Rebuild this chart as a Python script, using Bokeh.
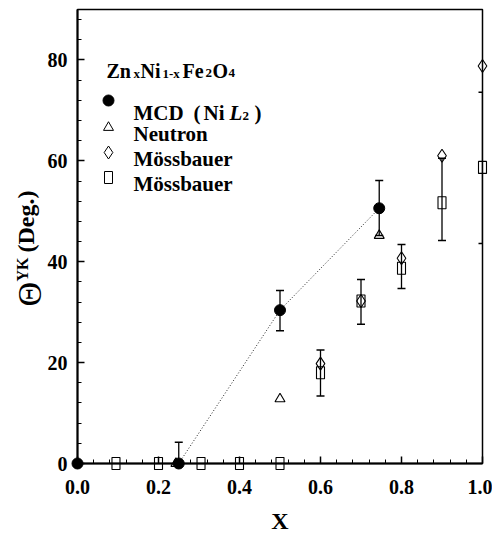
import numpy as np
from bokeh.plotting import figure
from bokeh.models import (Range1d, Whisker, ColumnDataSource, TeeHead,
                          SingleIntervalTicker, PrintfTickFormatter)
from bokeh.core.properties import value
from bokeh.embed import file_html
from bokeh.resources import INLINE

# ---------------- data ----------------
mcd_x = [0.0, 0.25, 0.5, 0.745]
mcd_y = [0.0, 0.0, 30.4, 50.6]
mcd_lo = [0.0, 0.0, 26.3, 45.2]
mcd_hi = [0.0, 4.2, 34.3, 56.1]

neu_x = [0.243, 0.5, 0.745]
neu_y = [0.0, 12.8, 45.2]

dia_x = [0.6, 0.7, 0.8, 0.9, 1.0]
dia_y = [19.8, 32.2, 40.7, 61.0, 78.8]

sq_x = [0.095, 0.2, 0.305, 0.4, 0.5, 0.6, 0.7, 0.8, 0.9, 1.0]
sq_y = [0.0, 0.0, 0.0, 0.0, 0.0, 18.0, 32.2, 38.7, 51.7, 58.7]
sq_lo = [0.0, 0.0, 0.0, 0.0, 0.0, 13.4, 27.6, 34.7, 44.2, 43.6]
sq_hi = [0.0, 0.0, 0.0, 0.0, 0.0, 22.5, 36.5, 43.4, 60.5, 73.6]

legend_labels = ["MCD", "Neutron", "Mössbauer", "Mössbauer"]

# ---------------- figure ----------------
FONT = "Liberation Serif"
FL, FR, FT, FB = 77, 482, 9, 463          # frame edges in page px
XMIN, XMAX, YMIN, YMAX = 0.0, 1.0, 0.0, 90.0

def dx(px):
    return XMIN + (px - FL) / (FR - FL) * (XMAX - XMIN)

def dy(py):
    return YMIN + (FB - py) / (FB - FT) * (YMAX - YMIN)

p = figure(frame_width=FR - FL, frame_height=FB - FT,
           min_border_left=FL, min_border_right=10,
           min_border_top=FT, min_border_bottom=70,
           x_range=Range1d(XMIN, XMAX), y_range=Range1d(YMIN, YMAX),
           output_backend="svg", toolbar_location=None)
p.grid.visible = False
p.outline_line_color = "black"
p.outline_line_width = 1.5
p.background_fill_color = "white"
p.border_fill_color = "white"

p.xaxis.ticker = SingleIntervalTicker(interval=0.2, num_minor_ticks=5)
p.yaxis.ticker = SingleIntervalTicker(interval=20, num_minor_ticks=5)
p.xaxis.formatter = PrintfTickFormatter(format="%.1f")
for ax in (p.xaxis, p.yaxis):
    ax.axis_line_width = 2
    ax.major_tick_in = 7
    ax.major_tick_out = 0
    ax.minor_tick_in = 4
    ax.minor_tick_out = 0
    ax.major_tick_line_width = 1.5
    ax.minor_tick_line_width = 1
    ax.major_label_text_font = FONT
    ax.major_label_text_font_style = "bold"
    ax.major_label_text_font_size = "20px"
    ax.major_label_text_color = "black"
p.xaxis.major_label_standoff = 16
p.yaxis.major_label_standoff = 10
p.xaxis.axis_label = "X"
p.xaxis.axis_label_text_font = FONT
p.xaxis.axis_label_text_font_style = "bold"
p.xaxis.axis_label_text_font_size = "24px"
p.xaxis.axis_label_text_color = "black"
p.xaxis.axis_label_standoff = 11

# ---------------- data marks ----------------
p.line(mcd_x[1:], mcd_y[1:], line_color="#222222", line_width=1,
       line_dash="1 2", level="overlay")

err = ColumnDataSource(dict(
    x=[x for x, y, h in zip(mcd_x, mcd_y, mcd_hi) if h > y] +
      [x for x, y, h in zip(sq_x, sq_y, sq_hi) if h > y],
    lo=[l for y, l, h in zip(mcd_y, mcd_lo, mcd_hi) if h > y] +
       [l for y, l, h in zip(sq_y, sq_lo, sq_hi) if h > y],
    hi=[h for y, h in zip(mcd_y, mcd_hi) if h > y] +
       [h for y, h in zip(sq_y, sq_hi) if h > y],
))
wh = Whisker(source=err, base="x", lower="lo", upper="hi", dimension="height",
             line_color="black", line_width=1.3, level="overlay",
             upper_head=TeeHead(size=8, line_width=1.5, line_color="black"),
             lower_head=TeeHead(size=8, line_width=1.5, line_color="black"))
p.add_layout(wh)

p.scatter(neu_x, neu_y, marker="triangle", size=10, fill_color=None,
          line_color="black", line_width=1.1, level="overlay")
p.scatter(dia_x, dia_y, marker="diamond", size=13, fill_color=None,
          line_color="black", line_width=1.1, level="overlay")
p.rect(sq_x, sq_y, width=8, height=12, width_units="screen",
       height_units="screen", fill_color=None, line_color="black",
       line_width=1.1, level="overlay")
p.scatter(mcd_x, mcd_y, marker="circle", size=11, fill_color="black",
          line_color="black", level="overlay")

# ---------------- legend (manual) ----------------
key_x = dx(108)
row_c = [100, 127, 152, 177]
row_b = [112, 133, 158, 183]
p.scatter([key_x], [dy(row_c[0])], marker="circle", size=11,
          fill_color="black", line_color="black", level="overlay")
p.scatter([key_x], [dy(row_c[1])], marker="triangle", size=10,
          fill_color=None, line_color="black", level="overlay")
p.scatter([key_x], [dy(row_c[2])], marker="diamond", size=13,
          fill_color=None, line_color="black", level="overlay")
p.rect([key_x], [dy(row_c[3])], width=8, height=12, width_units="screen",
       height_units="screen", fill_color=None, line_color="black",
       level="overlay")

def txt(px, py, s, size, style="bold", angle=0.0):
    p.text(x=[dx(px)], y=[dy(py)], text=[s], angle=angle,
           text_font=value(FONT), text_font_style=style,
           text_font_size=f"{size}px", text_color="black",
           text_align="left", text_baseline="alphabetic", level="overlay")

# legend texts
txt(133, row_b[0], legend_labels[0], 21)
txt(193, row_b[0], "(", 21)
txt(203, row_b[0], "Ni", 21)
txt(229, row_b[0], "L", 21, "bold italic")
txt(242, row_b[0] + 3, "2", 13)
txt(254, row_b[0], ")", 21)
for i in (1, 2, 3):
    txt(133, row_b[i], legend_labels[i], 21)

# compound formula Zn_x Ni_1-x Fe_2 O_4
tb = 70
txt(106, tb, "Zn", 20)
txt(133, tb + 3, "x", 13)
txt(140, tb, "Ni", 20)
txt(162, tb + 3, "1-x", 13)
txt(182, tb, "Fe", 20)
txt(205, tb + 2, "2", 13)
txt(212, tb, "O", 20)
txt(228, tb + 2, "4", 13)

# y-axis title, rotated
txt(29, 306, "Θ", 34, "normal", np.pi / 2)
txt(22, 281, "YK", 16, "bold", np.pi / 2)
txt(25, 252, "(Deg.)", 24, "bold", np.pi / 2)

open("out.html", "w").write(file_html(p, INLINE))
